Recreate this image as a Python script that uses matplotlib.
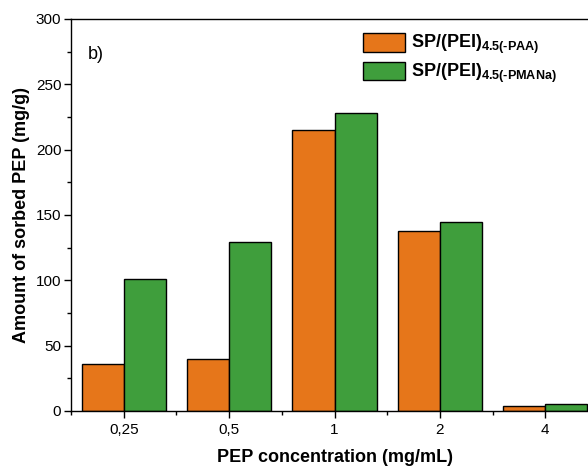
import numpy as np
import matplotlib
matplotlib.use('Agg')
import matplotlib.pyplot as plt
from matplotlib.ticker import MultipleLocator, FixedLocator

plt.rcParams['font.family'] = ['Liberation Sans', 'DejaVu Sans']
plt.rcParams['mathtext.fontset'] = 'custom'
plt.rcParams['mathtext.rm'] = 'Liberation Sans:bold'
plt.rcParams['mathtext.bf'] = 'Liberation Sans:bold'

# sorbed PEP (mg/g) vs PEP concentration (mg/mL)
concentrations = ['0,25', '0,5', '1', '2', '4']
paa = [36, 40, 215, 138, 3.5]
pmana = [101, 129, 228, 145, 5]

labels = [r'SP/(PEI)$_{\mathbf{4.5(‐PAA)}}$', r'SP/(PEI)$_{\mathbf{4.5(‐PMANa)}}$']

fig = plt.figure(figsize=(5.88, 4.66), dpi=100)
ax = fig.add_axes([71 / 588, 55 / 466, 527 / 588, 392 / 466])

x = np.arange(len(concentrations))
w = 0.4
ax.bar(x - w / 2, paa, w, color='#E6761A', edgecolor='black', linewidth=1.0, label=labels[0])
ax.bar(x + w / 2, pmana, w, color='#3F9E3C', edgecolor='black', linewidth=1.0, label=labels[1])

ax.set_xlim(-0.5, 4.5)
ax.set_ylim(0, 300)
ax.set_xticks(x)
ax.set_xticklabels(concentrations)
ax.xaxis.set_minor_locator(FixedLocator(np.arange(-0.5, 5, 1)))
ax.yaxis.set_major_locator(MultipleLocator(50))
ax.yaxis.set_minor_locator(MultipleLocator(25))
ax.tick_params(which='major', direction='out', length=5, width=1, labelsize=11, pad=4)
ax.tick_params(which='minor', direction='out', length=3, width=1)
ax.tick_params(axis='y', pad=2)

for s in ax.spines.values():
    s.set_linewidth(1.0)

ax.set_xlabel('PEP concentration (mg/mL)', fontsize=13, fontweight='bold', labelpad=8)
ax.set_ylabel('Amount of sorbed PEP (mg/g)', fontsize=13, fontweight='bold', labelpad=4)

ax.text(-0.34, 273, 'b)', fontsize=13, va='center')

leg = fig.legend(loc='upper left', bbox_to_anchor=(363 / 588, 1 - 33 / 466),
                 frameon=False, borderpad=0, borderaxespad=0,
                 handlelength=2.3, handleheight=1.2, handletextpad=0.35,
                 labelspacing=0.3, prop={'size': 13, 'weight': 'bold'})

fig.savefig('out.png', dpi=100)
